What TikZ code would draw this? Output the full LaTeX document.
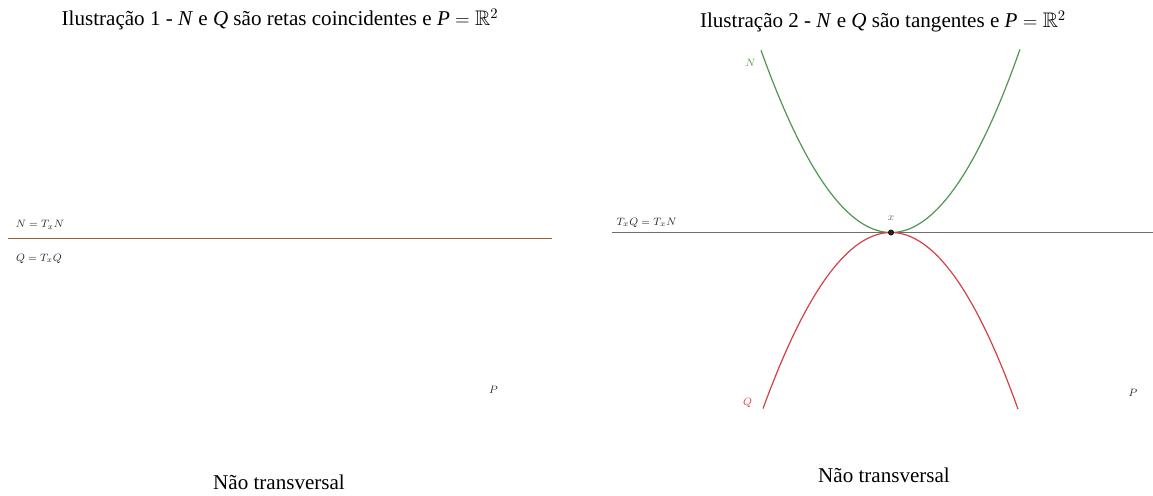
\documentclass[tikz,border=0pt]{standalone}
\usepackage{amssymb}
\usepackage{fontspec}
\setmainfont{Liberation Serif}
\definecolor{cbrown}{RGB}{160,90,55}
\definecolor{cgreen}{RGB}{80,150,80}
\definecolor{cred}{RGB}{215,65,70}
\definecolor{cgray}{RGB}{110,110,110}
\definecolor{ctext}{RGB}{40,40,40}
\tikzset{
  titletext/.style={font=\fontsize{15.8}{18}\selectfont, inner sep=0pt, anchor=base},
  lbl/.style={font=\fontsize{8.3}{10}\selectfont, text=ctext, inner sep=0pt},
  curve/.style={line width=0.9pt},
}
\begin{document}
\begin{tikzpicture}[x=0.75pt,y=-0.75pt]
\useasboundingbox (0,0) rectangle (1153,496);
% ---- panel 1
\node[titletext] (t1) at (280,25) {Ilustração 1 - \textit{N} e \textit{Q} são retas coincidentes e \textit{P} $=\mathbb{R}^2$};
\coordinate (l1a) at (8,238.5);
\coordinate (l1b) at (552,238.5);
\draw[cbrown, line width=1.1pt] (l1a) -- (l1b);
\node[lbl] (n1) at (40,225) {$N=T_xN$};
\node[lbl] (q1) at (39,259) {$Q=T_xQ$};
\node[lbl] (p1) at (493.5,390) {$P$};
\node[titletext] (b1) at (279,489) {Não transversal};
% ---- panel 2
\node[titletext] (t2) at (883,27) {Ilustração 2 - \textit{N} e \textit{Q} são tangentes e \textit{P} $=\mathbb{R}^2$};
\coordinate (l2a) at (612,232.5);
\coordinate (l2b) at (1153,232.5);
\draw[cgray, line width=0.9pt] (l2a) -- (l2b);
\draw[cgreen, curve] plot[domain=-1.3:1.29, samples=120, smooth] ({891+100*\x},{232.5-109*\x*\x-0.9*\x*\x*\x});
\draw[cred, curve] plot[domain=-1.28:1.27, samples=120, smooth] ({891+100*\x},{232.5+108.5*\x*\x+0.8*\x*\x*\x});
\node[circle, fill=black!85, draw=black, inner sep=0pt, minimum size=4pt] (x) at (891,232.5) {};
\node[lbl, text=cgray] (xl) at (891,218.5) {$x$};
\node[lbl] (tl) at (646.5,222.5) {$T_xQ=T_xN$};
\node[lbl, text=cgreen] (nl) at (750.5,63) {$N$};
\node[lbl, text=cred] (ql) at (747.5,403) {$Q$};
\node[lbl] (p2) at (1133,393) {$P$};
\node[titletext] (b2) at (884,482) {Não transversal};
\end{tikzpicture}
\end{document}
